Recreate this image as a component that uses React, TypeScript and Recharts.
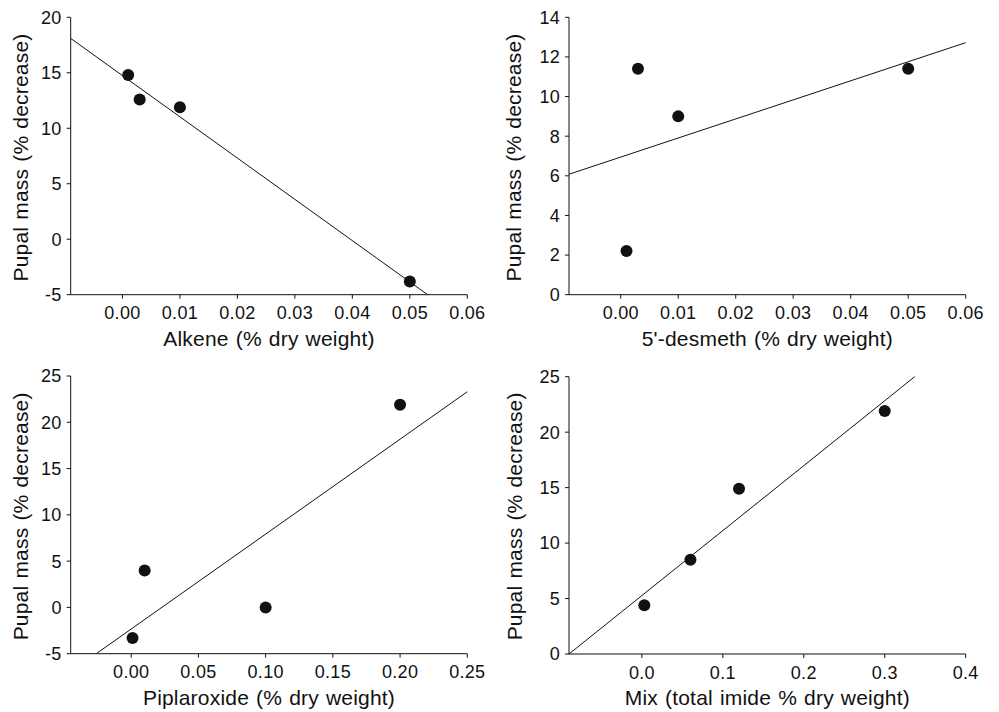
import React from "react";
import { ScatterChart, Scatter, XAxis, YAxis, ReferenceLine, Label } from "recharts";

// Panel A: Alkene
const alkeneX = [0.001, 0.003, 0.01, 0.05];
const alkeneY = [14.8, 12.6, 11.9, -3.8];
const alkeneFit = [
  { x: -0.009, y: 18.1 },
  { x: 0.0531, y: -5 },
];
const alkeneXTicks = [0, 0.01, 0.02, 0.03, 0.04, 0.05, 0.06];
const alkeneYTicks = [-5, 0, 5, 10, 15, 20];

// Panel B: 5'-desmeth
const desmethX = [0.001, 0.003, 0.01, 0.05];
const desmethY = [2.2, 11.4, 9.0, 11.4];
const desmethFit = [
  { x: -0.009, y: 6.08 },
  { x: 0.06, y: 12.72 },
];
const desmethXTicks = [0, 0.01, 0.02, 0.03, 0.04, 0.05, 0.06];
const desmethYTicks = [0, 2, 4, 6, 8, 10, 12, 14];

// Panel C: Piplaroxide
const piplX = [0.001, 0.01, 0.1, 0.2];
const piplY = [-3.3, 4.0, 0.0, 21.9];
const piplFit = [
  { x: -0.026, y: -5 },
  { x: 0.25, y: 23.3 },
];
const piplXTicks = [0, 0.05, 0.1, 0.15, 0.2, 0.25];
const piplYTicks = [-5, 0, 5, 10, 15, 20, 25];

// Panel D: Mix
const mixX = [0.003, 0.06, 0.12, 0.3];
const mixY = [4.4, 8.5, 14.9, 21.9];
const mixFit = [
  { x: -0.09, y: 0 },
  { x: 0.337, y: 25 },
];
const mixXTicks = [0, 0.1, 0.2, 0.3, 0.4];
const mixYTicks = [0, 5, 10, 15, 20, 25];

const yLabelText = "Pupal mass (% decrease)";

const FONT = "'Liberation Sans', Arial, Helvetica, sans-serif";
const INK = "#111";

const Dot = (props: any) => <circle cx={props.cx} cy={props.cy} r={6} fill={INK} />;

type PanelProps = {
  left: number;
  top: number;
  width: number;
  height: number;
  plot: { l: number; t: number; r: number; b: number };
  xs: number[];
  ys: number[];
  fit: { x: number; y: number }[];
  xDomain: [number, number];
  yDomain: [number, number];
  xTicks: number[];
  yTicks: number[];
  xDigits: number;
  xLabel: string;
  yLabelOffset: number;
  yLabelShift: number;
};

const Panel = (p: PanelProps) => {
  const data = p.xs.map((x, i) => ({ x, y: p.ys[i] }));
  const xAxisH = 50;
  const margin = {
    top: p.plot.t,
    left: 0,
    right: p.width - p.plot.r,
    bottom: p.height - p.plot.b - xAxisH,
  };
  const XLab = (lp: any) => {
    const vb = lp.viewBox || {};
    const cx = vb.x + vb.width / 2;
    const y = vb.y + 51.3;
    return (
      <text
        x={cx}
        y={y}
        textAnchor="middle"
        fontFamily={FONT}
        fontSize={21}
        fill={INK}
        letterSpacing={0.2}
        wordSpacing={1}
      >
        {p.xLabel}
      </text>
    );
  };
  const YLab = (lp: any) => {
    const vb = lp.viewBox || {};
    const cx = vb.x + vb.width + p.yLabelOffset;
    const cy = vb.y + vb.height / 2 + p.yLabelShift;
    return (
      <text
        x={cx}
        y={cy}
        transform={`rotate(-90 ${cx} ${cy})`}
        textAnchor="middle"
        fontFamily={FONT}
        fontSize={21}
        fill={INK}
        letterSpacing={0.2}
        wordSpacing={1}
      >
        {yLabelText}
      </text>
    );
  };
  const tickStyle = { fontSize: 18, fill: INK, fontFamily: FONT, letterSpacing: 0.3 };
  return (
    <div style={{ position: "absolute", left: p.left, top: p.top, width: p.width, height: p.height }}>
      <ScatterChart width={p.width} height={p.height} margin={margin}>
        <XAxis
          type="number"
          dataKey="x"
          domain={p.xDomain}
          ticks={p.xTicks}
          interval={0}
          allowDataOverflow
          height={xAxisH}
          tickSize={4}
          tickMargin={8}
          tick={tickStyle}
          tickFormatter={(v: number) => v.toFixed(p.xDigits)}
          axisLine={{ stroke: INK, strokeWidth: 1 }}
          tickLine={{ stroke: INK, strokeWidth: 1 }}
        >
          <Label content={XLab} />
        </XAxis>
        <YAxis
          type="number"
          dataKey="y"
          domain={p.yDomain}
          ticks={p.yTicks}
          interval={0}
          allowDataOverflow
          width={p.plot.l}
          tickSize={4}
          tickMargin={5}
          tick={tickStyle}
          axisLine={{ stroke: INK, strokeWidth: 1 }}
          tickLine={{ stroke: INK, strokeWidth: 1 }}
        >
          <Label content={YLab} />
        </YAxis>
        <ReferenceLine
          segment={p.fit}
          stroke={INK}
          strokeWidth={1}
          ifOverflow="visible"
        />
        <Scatter data={data} shape={Dot} isAnimationActive={false} />
      </ScatterChart>
    </div>
  );
};

export default function App() {
  return (
    <div
      style={{
        position: "absolute",
        left: 0,
        top: 0,
        width: 999,
        height: 712,
        background: "#fff",
        overflow: "hidden",
      }}
    >
      <Panel
        left={0}
        top={0}
        width={500}
        height={356}
        plot={{ l: 70.7, t: 17.3, r: 467.3, b: 294.7 }}
        xs={alkeneX}
        ys={alkeneY}
        fit={alkeneFit}
        xDomain={[-0.009, 0.06]}
        yDomain={[-5, 20]}
        xTicks={alkeneXTicks}
        yTicks={alkeneYTicks}
        xDigits={2}
        xLabel="Alkene (% dry weight)"
        yLabelOffset={-42.7}
        yLabelShift={1.5}
      />
      <Panel
        left={500}
        top={0}
        width={499}
        height={356}
        plot={{ l: 69, t: 17.3, r: 465.7, b: 294.7 }}
        xs={desmethX}
        ys={desmethY}
        fit={desmethFit}
        xDomain={[-0.009, 0.06]}
        yDomain={[0, 14]}
        xTicks={desmethXTicks}
        yTicks={desmethYTicks}
        xDigits={2}
        xLabel="5'-desmeth (% dry weight)"
        yLabelOffset={-48}
        yLabelShift={1.5}
      />
      <Panel
        left={0}
        top={356}
        width={500}
        height={356}
        plot={{ l: 70.7, t: 20, r: 467.3, b: 297.7 }}
        xs={piplX}
        ys={piplY}
        fit={piplFit}
        xDomain={[-0.045, 0.25]}
        yDomain={[-5, 25]}
        xTicks={piplXTicks}
        yTicks={piplYTicks}
        xDigits={2}
        xLabel="Piplaroxide (% dry weight)"
        yLabelOffset={-42.7}
        yLabelShift={1.5}
      />
      <Panel
        left={500}
        top={356}
        width={499}
        height={356}
        plot={{ l: 69, t: 20.7, r: 465.7, b: 298 }}
        xs={mixX}
        ys={mixY}
        fit={mixFit}
        xDomain={[-0.09, 0.4]}
        yDomain={[0, 25]}
        xTicks={mixXTicks}
        yTicks={mixYTicks}
        xDigits={1}
        xLabel="Mix (total imide % dry weight)"
        yLabelOffset={-47}
        yLabelShift={1}
      />
    </div>
  );
}
